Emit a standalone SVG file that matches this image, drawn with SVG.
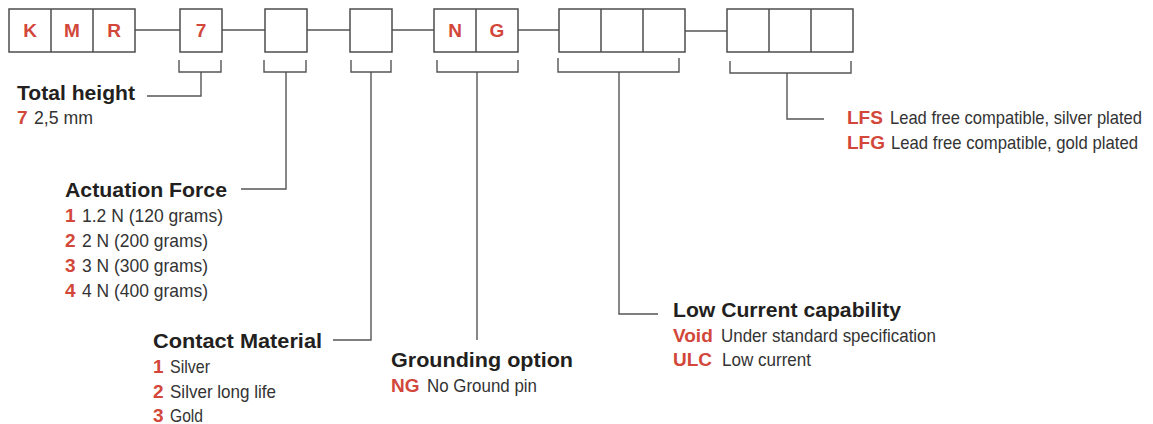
<svg xmlns="http://www.w3.org/2000/svg" width="1153" height="424" viewBox="0 0 1153 424">
<style>
.box{fill:#fff;stroke:#4d4d4d;stroke-width:1.5}
.ln{fill:none;stroke:#555;stroke-width:1.4}
.code{font-family:"Liberation Sans",Arial,sans-serif;font-weight:bold;font-size:19px;fill:#d2473a}
.cell{font-family:"Liberation Sans",Arial,sans-serif;font-weight:bold;font-size:19px;fill:#d2473a;text-anchor:middle}
.hd{font-family:"Liberation Sans",Arial,sans-serif;font-weight:bold;font-size:19.5px;fill:#231f20}
.tx{font-family:"Liberation Sans",Arial,sans-serif;font-size:19px;fill:#333}
</style>
<rect width="1153" height="424" fill="#fff"/>
<g id="connectors">
<path class="ln" d="M135,30H180M222,30H265M307,30H350M392,30H434M518,30H559M685,31H727"/>
<path class="ln" d="M179,60V72H221V60M201,72V96H147"/>
<path class="ln" d="M264,60V72H306V60M286,72V189H241"/>
<path class="ln" d="M351,60V72H391V60M371,72V340H333"/>
<path class="ln" d="M437,60V72H518V60M477,72V340"/>
<path class="ln" d="M558,58V72H679V58M619,72V314H658"/>
<path class="ln" d="M730,61V73H851V61M787,73V119H824"/>
</g>
<g id="node-kmr">
<rect class="box" x="9" y="9" width="126" height="43"/>
<path class="box" d="M51,9V52M93,9V52"/>
<text class="cell" x="30" y="37">K</text>
<text class="cell" x="72" y="37">M</text>
<text class="cell" x="114" y="37">R</text>
</g>
<g id="node-height">
<rect class="box" x="180" y="9" width="42" height="43"/>
<text class="cell" x="201" y="37">7</text>
</g>
<g id="node-force">
<rect class="box" x="265" y="9" width="42" height="43"/>
</g>
<g id="node-material">
<rect class="box" x="350" y="9" width="42" height="43"/>
</g>
<g id="node-ground">
<rect class="box" x="434" y="9" width="84" height="43"/>
<path class="box" d="M476,9V52"/>
<text class="cell" x="455" y="37">N</text>
<text class="cell" x="497" y="37">G</text>
</g>
<g id="node-current">
<rect class="box" x="559" y="9" width="126" height="43"/>
<path class="box" d="M601,9V52M643,9V52"/>
</g>
<g id="node-plating">
<rect class="box" x="727" y="9" width="126" height="43"/>
<path class="box" d="M769,9V52M811,9V52"/>
</g>
<g id="label-height">
<text class="hd" x="17" y="100" textLength="118" lengthAdjust="spacingAndGlyphs">Total height</text>
<text class="code" x="17" y="124">7</text>
<text class="tx" x="34" y="124" textLength="59" lengthAdjust="spacingAndGlyphs">2,5 mm</text>
</g>
<g id="label-force">
<text class="hd" x="65" y="197" textLength="162" lengthAdjust="spacingAndGlyphs">Actuation Force</text>
<text class="code" x="65" y="222">1</text>
<text class="tx" x="82" y="222" textLength="141" lengthAdjust="spacingAndGlyphs">1.2 N (120 grams)</text>
<text class="code" x="65" y="247">2</text>
<text class="tx" x="82" y="247" textLength="126" lengthAdjust="spacingAndGlyphs">2 N (200 grams)</text>
<text class="code" x="65" y="272">3</text>
<text class="tx" x="82" y="272" textLength="126" lengthAdjust="spacingAndGlyphs">3 N (300 grams)</text>
<text class="code" x="65" y="297">4</text>
<text class="tx" x="82" y="297" textLength="126" lengthAdjust="spacingAndGlyphs">4 N (400 grams)</text>
</g>
<g id="label-material">
<text class="hd" x="153" y="348" textLength="169" lengthAdjust="spacingAndGlyphs">Contact Material</text>
<text class="code" x="153" y="373">1</text>
<text class="tx" x="170" y="373" textLength="40" lengthAdjust="spacingAndGlyphs">Silver</text>
<text class="code" x="153" y="398">2</text>
<text class="tx" x="170" y="398" textLength="106" lengthAdjust="spacingAndGlyphs">Silver long life</text>
<text class="code" x="153" y="422">3</text>
<text class="tx" x="170" y="422" textLength="33" lengthAdjust="spacingAndGlyphs">Gold</text>
</g>
<g id="label-ground">
<text class="hd" x="391" y="367" textLength="182" lengthAdjust="spacingAndGlyphs">Grounding option</text>
<text class="code" x="391" y="392">NG</text>
<text class="tx" x="427" y="392" textLength="110" lengthAdjust="spacingAndGlyphs">No Ground pin</text>
</g>
<g id="label-current">
<text class="hd" x="673" y="317" textLength="228" lengthAdjust="spacingAndGlyphs">Low Current capability</text>
<text class="code" x="673" y="342">Void</text>
<text class="tx" x="721" y="342" textLength="215" lengthAdjust="spacingAndGlyphs">Under standard specification</text>
<text class="code" x="673" y="366">ULC</text>
<text class="tx" x="722" y="366" textLength="89" lengthAdjust="spacingAndGlyphs">Low current</text>
</g>
<g id="label-plating">
<text class="code" x="847" y="124">LFS</text>
<text class="tx" x="890" y="124" textLength="252" lengthAdjust="spacingAndGlyphs">Lead free compatible, silver plated</text>
<text class="code" x="847" y="149">LFG</text>
<text class="tx" x="891" y="149" textLength="247" lengthAdjust="spacingAndGlyphs">Lead free compatible, gold plated</text>
</g>
</svg>
